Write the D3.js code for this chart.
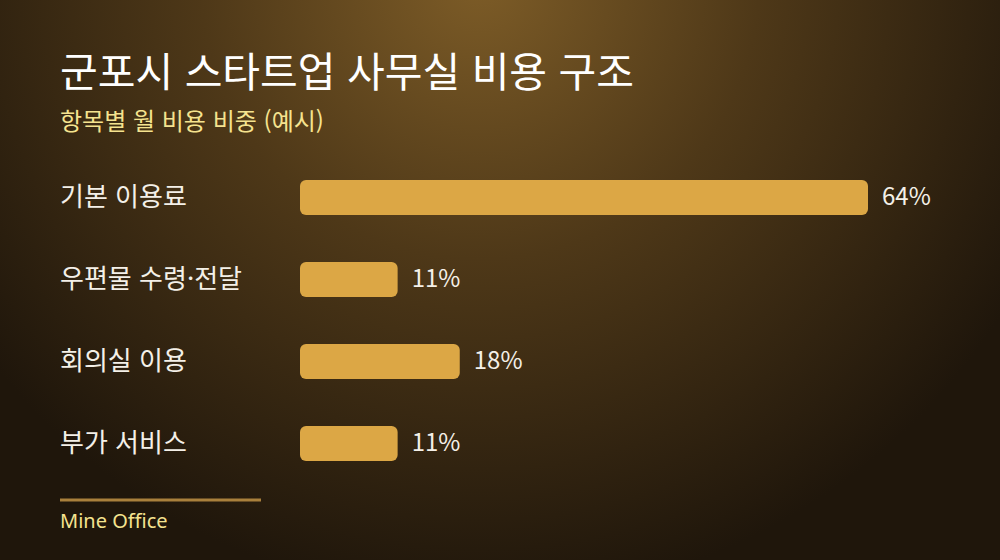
<!DOCTYPE html>
<html lang="ko">
<head>
<meta charset="utf-8">
<script src="https://cdn.jsdelivr.net/npm/d3@7"></script>
<style>
  html, body { margin: 0; padding: 0; background: #1e150b; }
  svg { display: block; font-family: "Noto Sans CJK KR", "Noto Sans", sans-serif; }
</style>
</head>
<body>
<div id="chart"></div>
<script>
// data -------------------------------------------------------------
const categories = ["기본 이용료", "우편물 수령·전달", "회의실 이용", "부가 서비스"];
const shares = [64, 11, 18, 11];
const title = "군포시 스타트업 사무실 비용 구조";
const subtitle = "항목별 월 비용 비중 (예시)";
const source = "Mine Office";

const width = 1000, height = 560;

const svg = d3.select("#chart")
    .append("svg")
    .attr("width", width)
    .attr("height", height);

// background glow
const defs = svg.append("defs");
const glow = defs.append("radialGradient")
    .attr("id", "bg")
    .attr("gradientUnits", "userSpaceOnUse")
    .attr("cx", 480).attr("cy", -20)
    .attr("r", 620);
glow.append("stop").attr("offset", "0%").attr("stop-color", "#7d5c27");
glow.append("stop").attr("offset", "45%").attr("stop-color", "#4e3818");
glow.append("stop").attr("offset", "100%").attr("stop-color", "#1f160b");

svg.append("rect")
    .attr("width", width).attr("height", height)
    .attr("fill", "url(#bg)");

// titles
svg.append("text")
    .attr("x", 60).attr("y", 87)
    .attr("fill", "#ffffff")
    .attr("font-size", 41)
    .attr("font-weight", 400)
    .text(title);

svg.append("text")
    .attr("x", 60).attr("y", 130)
    .attr("fill", "#f5e38f")
    .attr("font-size", 24)
    .text(subtitle);

// scales
const x = d3.scaleLinear()
    .domain([0, d3.max(shares)])
    .range([300, 868]);

const y = d3.scaleBand()
    .domain(categories)
    .range([180, 461])
    .paddingInner(0.573)
    .paddingOuter(0);

const rows = svg.append("g")
    .selectAll("g")
    .data(categories.map((c, i) => ({ name: c, value: shares[i] })))
    .join("g");

rows.append("rect")
    .attr("x", x(0))
    .attr("y", d => y(d.name))
    .attr("width", d => x(d.value) - x(0))
    .attr("height", y.bandwidth())
    .attr("rx", 6)
    .attr("fill", "#dca745");

rows.append("text")
    .attr("x", 60)
    .attr("y", d => y(d.name) + y.bandwidth() / 2)
    .attr("dy", "0.05em")
    .attr("fill", "#f4f0e8")
    .attr("font-size", 26)
    .attr("dominant-baseline", "middle")
    .text(d => d.name);

rows.append("text")
    .attr("x", d => x(d.value) + 14)
    .attr("y", d => y(d.name) + y.bandwidth() / 2)
    .attr("dy", "0.05em")
    .attr("fill", "#f4f0e8")
    .attr("font-size", 24)
    .attr("dominant-baseline", "middle")
    .text(d => d.value + "%");

// footer
svg.append("line")
    .attr("x1", 60).attr("x2", 261)
    .attr("y1", 500).attr("y2", 500)
    .attr("stroke", "#a9803c")
    .attr("stroke-width", 3);

svg.append("text")
    .attr("x", 60).attr("y", 528)
    .attr("fill", "#f5e38f")
    .attr("font-size", 20)
    .attr("font-family", "'Noto Sans', sans-serif")
    .text(source);
</script>
</body>
</html>
